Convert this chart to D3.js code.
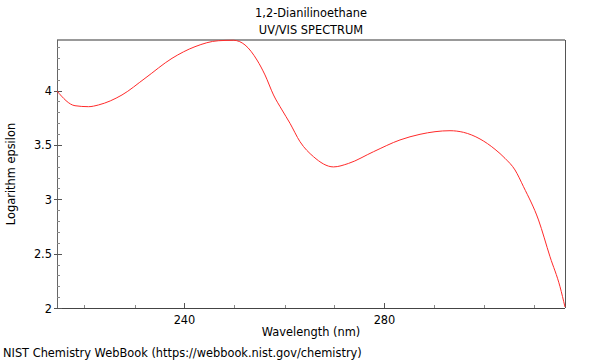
<!DOCTYPE html>
<html><head><meta charset="utf-8">
<script src="https://cdn.jsdelivr.net/npm/d3@7"></script>
<style>body{margin:0;background:#fff}svg{display:block}text{font-family:"DejaVu Sans",sans-serif;fill:#000}</style>
</head><body><svg id="c" width="600" height="360"></svg>
<script>
const wavelengths = [214.5,218.1,220.8,222.8,227.5,232.1,237.5,242.1,246.8,249.8,252.1,254.5,256.1,257.8,259.5,261.1,263.1,265.8,269.8,272.8,277.8,283.1,287.1,293.1,295.8,299.1,302.1,304.1,306.1,307.8,310.8,313.1,315.1,316.1];
const logEps     = [3.996,3.861,3.852,3.868,3.960,4.113,4.297,4.404,4.459,4.463,4.420,4.281,4.144,3.960,3.822,3.699,3.530,3.392,3.298,3.330,3.438,3.546,3.598,3.631,3.616,3.555,3.460,3.377,3.270,3.116,2.810,2.472,2.196,2.009];
const xMajorTicks = [240,280];
const xMinorTicks = [220,230,250,260,270,290,300,310];
const yMajorTicks = [2,2.5,3,3.5,4];
const yMinorTicks = [2.1,2.2,2.3,2.4,2.6,2.7,2.8,2.9,3.1,3.2,3.3,3.4,3.6,3.7,3.8,3.9,4.1,4.2,4.3,4.4];
const titleLines = ["1,2-Dianilinoethane","UV/VIS SPECTRUM"];

const L=57,R=565,T=40,B=308,FS=11.4;
const svg=d3.select("#c");
const x=d3.scaleLinear().domain([214.5,316.1]).range([L,R]);
const y=d3.scaleLinear().domain([2,4.4655]).range([B,T]);

// frame
svg.append("line").attr("x1",L).attr("x2",R).attr("y1",T).attr("y2",T).attr("stroke","#999").attr("stroke-width",2);
svg.append("line").attr("x1",R+0.5).attr("x2",R+0.5).attr("y1",T).attr("y2",B).attr("stroke","#555");
svg.append("line").attr("x1",L+0.5).attr("x2",L+0.5).attr("y1",T).attr("y2",B).attr("stroke","#666");
svg.append("line").attr("x1",L).attr("x2",R).attr("y1",B+0.5).attr("y2",B+0.5).attr("stroke","#444");

// x ticks
const gx=svg.append("g");
gx.selectAll(".mj").data(xMajorTicks).join("line").attr("x1",d=>Math.round(x(d))+0.5).attr("x2",d=>Math.round(x(d))+0.5).attr("y1",B).attr("y2",B-5).attr("stroke","#555");
gx.selectAll(".mn").data(xMinorTicks).join("line").attr("x1",d=>Math.round(x(d))+0.5).attr("x2",d=>Math.round(x(d))+0.5).attr("y1",B).attr("y2",B-3).attr("stroke","#888");
gx.selectAll("text").data(xMajorTicks).join("text").attr("x",d=>x(d)).attr("y",B+16).attr("text-anchor","middle").attr("font-size",FS).text(d=>d);

// y ticks
const gy=svg.append("g");
gy.selectAll(".mj").data(yMajorTicks).join("line").attr("x1",L-3).attr("x2",L+5).attr("y1",d=>Math.round(y(d))+0.5).attr("y2",d=>Math.round(y(d))+0.5).attr("stroke","#555");
gy.selectAll(".mn").data(yMinorTicks).join("line").attr("x1",L).attr("x2",L+3).attr("y1",d=>Math.round(y(d))+0.5).attr("y2",d=>Math.round(y(d))+0.5).attr("stroke","#888");
gy.selectAll("text").data(yMajorTicks).join("text").attr("x",L-5).attr("y",d=>y(d)+4.5).attr("text-anchor","end").attr("font-size",FS).text(d=>d);

// line
const data=wavelengths.map((w,i)=>[w,logEps[i]]);
svg.append("path").datum(data).attr("fill","none").attr("stroke","#ff2a2a").attr("stroke-width",1)
  .attr("d",d3.line().x(d=>x(d[0])).y(d=>y(d[1])).curve(d3.curveMonotoneX));

// titles
svg.selectAll(".t").data(titleLines).join("text").attr("x",(L+R)/2).attr("y",(d,i)=>17+i*17).attr("text-anchor","middle").attr("font-size",FS).text(d=>d);
svg.append("text").attr("x",(L+R)/2).attr("y",336).attr("text-anchor","middle").attr("font-size",FS).text("Wavelength (nm)");
svg.append("text").attr("transform",`translate(15,${(T+B)/2}) rotate(-90)`).attr("text-anchor","middle").attr("font-size",FS).text("Logarithm epsilon");
svg.append("text").attr("x",3).attr("y",357).attr("font-size",FS).text("NIST Chemistry WebBook (https://webbook.nist.gov/chemistry)");
</script></body></html>
